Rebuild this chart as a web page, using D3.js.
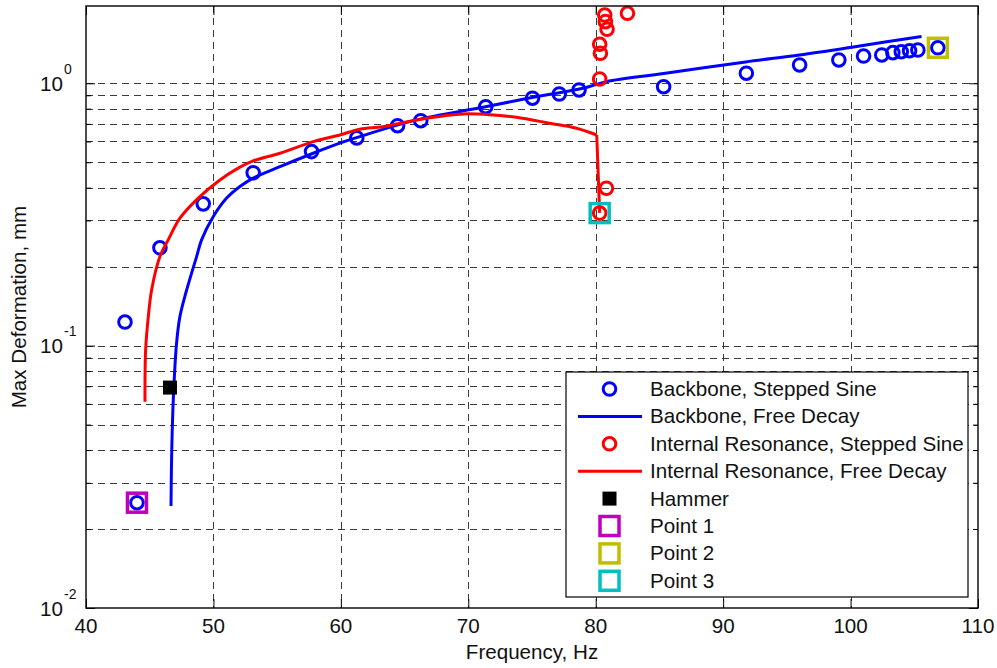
<!DOCTYPE html>
<html>
<head>
<meta charset="utf-8">
<script src="https://cdn.jsdelivr.net/npm/d3@7"></script>
<style>
  html, body { margin: 0; padding: 0; background: #fff; }
  svg { display: block; font-family: "Liberation Sans", Arial, Helvetica, sans-serif; }
</style>
</head>
<body>
<svg id="chart" width="997" height="668"></svg>
<script>
// Backbone curve measured with stepped sine (Hz, mm)
const bbSineFreq = [43.06, 44.0, 45.8, 49.2, 53.12, 57.7, 61.25, 64.45, 66.27, 71.37, 75.04, 77.14, 78.69,
                    85.33, 91.82, 96.0, 99.08, 101.02, 102.45, 103.32, 103.98, 104.63, 105.28, 106.85];
const bbSineDef  = [0.123, 0.0252, 0.236, 0.347, 0.456, 0.549, 0.619, 0.689, 0.720, 0.814, 0.877, 0.910, 0.943,
                    0.970, 1.092, 1.174, 1.227, 1.27, 1.282, 1.308, 1.319, 1.331, 1.339, 1.365];

// Backbone curve extracted from free decay
const bbDecayFreq = [46.67, 46.72, 46.85, 47.11, 47.37, 47.90, 48.68, 49.07, 49.98, 51.04, 52.08, 53.12, 55.22,
                     57.83, 59.92, 61.49, 65.94, 71.16, 75.08, 79.0, 80.84, 85.33, 91.76, 96.0, 100.71, 105.57];
const bbDecayDef  = [0.0245, 0.0378, 0.0622, 0.1025, 0.129, 0.163, 0.2185, 0.253, 0.310, 0.365, 0.404, 0.435, 0.481,
                     0.541, 0.591, 0.626, 0.725, 0.810, 0.884, 0.957, 1.014, 1.089, 1.206, 1.282, 1.387, 1.508];

// Internal resonance branch, stepped sine
const irSineFreq = [80.31, 80.37, 80.31, 80.89, 80.76, 80.71, 82.49, 80.84, 80.31];
const irSineDef  = [1.038, 1.301, 1.408, 1.606, 1.717, 1.82, 1.848, 0.398, 0.320];

// Internal resonance branch, free decay (smooth part, then the drop at ~80 Hz)
const irDecayFreq = [44.63, 44.68, 44.89, 45.15, 45.80, 46.45, 47.37, 48.81, 50.51, 52.08, 53.12, 55.22, 57.83,
                     59.92, 61.49, 63.32, 65.94, 68.02, 69.59, 71.69, 73.78, 76.39, 78.49, 80.08];
const irDecayDef  = [0.0611, 0.0964, 0.129, 0.163, 0.2185, 0.253, 0.306, 0.365, 0.428, 0.479, 0.506, 0.541, 0.599,
                     0.635, 0.668, 0.683, 0.725, 0.751, 0.764, 0.759, 0.742, 0.704, 0.674, 0.635];
const irDropFreq = [80.08, 80.31];
const irDropDef  = [0.635, 0.3206];

// Single markers: hammer test and the three highlighted points
const hammerPoint = [46.59, 0.0692];
const point1 = [44.0, 0.0252];
const point2 = [106.85, 1.365];
const point3 = [80.31, 0.320];

// Axis ticks and labels
const freqTicks = [40, 50, 60, 70, 80, 90, 100, 110];
const decadeTicks = [0.01, 0.1, 1];
const decadeExponents = ["-2", "-1", "0"];
const minorMultipliers = [2, 3, 4, 5, 6, 7, 8, 9];

const legendLabels = [
  "Backbone, Stepped Sine",
  "Backbone, Free Decay",
  "Internal Resonance, Stepped Sine",
  "Internal Resonance, Free Decay",
  "Hammer",
  "Point 1",
  "Point 2",
  "Point 3"
];

const BLUE = "#0000ff", RED = "#ff0000", PURPLE = "#bf00bf", OLIVE = "#bfbf00", CYAN = "#00bfbf";
const FS = 20.6;

const svg = d3.select("#chart");
const L = 86, R = 978, T = 6, B = 608;

const x = d3.scaleLinear().domain([40, 110]).range([L, R]);
const y = d3.scaleLog().domain([0.01, 1.97]).range([B, T]);

const minorTicks = [];
decadeTicks.slice(0, 2).forEach(d => minorMultipliers.forEach(m => minorTicks.push(+(m * d).toPrecision(3))));
const yGridVals = decadeTicks.concat(minorTicks).filter(v => v > 0.01);

// grid
const grid = svg.append("g").attr("stroke", "#3a3a3a").attr("stroke-width", 1)
  .attr("stroke-dasharray", "7,5").attr("shape-rendering", "crispEdges");
grid.selectAll("line.gx").data(freqTicks.slice(1, -1)).join("line")
  .attr("x1", d => Math.round(x(d)) + 0.5).attr("x2", d => Math.round(x(d)) + 0.5)
  .attr("y1", T).attr("y2", B);
grid.selectAll("line.gy").data(yGridVals).join("line")
  .attr("y1", d => Math.round(y(d)) + 0.5).attr("y2", d => Math.round(y(d)) + 0.5)
  .attr("x1", L).attr("x2", R);

// inward ticks on all four sides via d3 axes
const noLabel = () => "";
function styleAxis(g) {
  g.select(".domain").remove();
  g.selectAll("line").attr("stroke", "#000").attr("stroke-width", 1);
  g.selectAll("text").remove();
}
svg.append("g").attr("transform", `translate(0,${B})`)
  .call(d3.axisBottom(x).tickValues(freqTicks).tickSize(-9).tickFormat(noLabel)).call(styleAxis);
svg.append("g").attr("transform", `translate(0,${T})`)
  .call(d3.axisTop(x).tickValues(freqTicks).tickSize(-9).tickFormat(noLabel)).call(styleAxis);
svg.append("g").attr("transform", `translate(${L},0)`)
  .call(d3.axisLeft(y).tickValues(decadeTicks).tickSize(-9).tickFormat(noLabel)).call(styleAxis);
svg.append("g").attr("transform", `translate(${R},0)`)
  .call(d3.axisRight(y).tickValues(decadeTicks).tickSize(-9).tickFormat(noLabel)).call(styleAxis);
svg.append("g").attr("transform", `translate(${L},0)`)
  .call(d3.axisLeft(y).tickValues(minorTicks).tickSize(-5).tickFormat(noLabel)).call(styleAxis);
svg.append("g").attr("transform", `translate(${R},0)`)
  .call(d3.axisRight(y).tickValues(minorTicks).tickSize(-5).tickFormat(noLabel)).call(styleAxis);

// x tick labels
svg.append("g").selectAll("text").data(freqTicks).join("text")
  .attr("x", d => x(d)).attr("y", 633).attr("text-anchor", "middle")
  .attr("font-size", FS).attr("fill", "#111").text(d => d);

// y tick labels: 10 with superscript exponent
const yl = svg.append("g").attr("fill", "#111");
decadeTicks.forEach((d, i) => {
  const py = y(d);
  yl.append("text").attr("x", 63).attr("y", py + 7.5).attr("text-anchor", "end")
    .attr("font-size", FS).text("10");
  yl.append("text").attr("x", 64).attr("y", py - 9.5).attr("text-anchor", "start")
    .attr("font-size", 14).text(decadeExponents[i]);
});

// axis titles
svg.append("text").attr("x", (L + R) / 2).attr("y", 659).attr("text-anchor", "middle")
  .attr("font-size", FS).attr("fill", "#111").text("Frequency, Hz");
svg.append("text").attr("transform", `translate(26,${(T + B) / 2}) rotate(-90)`)
  .attr("text-anchor", "middle").attr("font-size", FS).attr("fill", "#111").text("Max Deformation, mm");

// data layer clipped to the axes box
svg.append("clipPath").attr("id", "plotClip").append("rect")
  .attr("x", L).attr("y", T - 10).attr("width", R - L).attr("height", B - T + 10);
const plot = svg.append("g").attr("clip-path", "url(#plotClip)");

const smooth = d3.line().x(d => x(d[0])).y(d => y(d[1])).curve(d3.curveCatmullRom.alpha(0.5));
const straight = d3.line().x(d => x(d[0])).y(d => y(d[1]));
const zip = (a, b) => a.map((v, i) => [v, b[i]]);

function circles(g, data, color) {
  g.append("g").selectAll("circle").data(data).join("circle")
    .attr("cx", d => x(d[0])).attr("cy", d => y(d[1])).attr("r", 6.3)
    .attr("fill", "none").attr("stroke", color).attr("stroke-width", 3);
}
function squareMark(g, d, color, size, filled) {
  g.append("rect")
    .attr("x", x(d[0]) - size / 2).attr("y", y(d[1]) - size / 2)
    .attr("width", size).attr("height", size)
    .attr("fill", filled ? color : "none")
    .attr("stroke", filled ? "none" : color).attr("stroke-width", filled ? 0 : 3.5);
}
function path(g, data, gen, color) {
  g.append("path").datum(data).attr("d", gen)
    .attr("fill", "none").attr("stroke", color).attr("stroke-width", 3)
    .attr("stroke-linejoin", "round").attr("stroke-linecap", "butt");
}

circles(plot, zip(bbSineFreq, bbSineDef), BLUE);
path(plot, zip(bbDecayFreq, bbDecayDef), smooth, BLUE);
circles(plot, zip(irSineFreq, irSineDef), RED);
path(plot, zip(irDecayFreq, irDecayDef), smooth, RED);
path(plot, zip(irDropFreq, irDropDef), straight, RED);
squareMark(plot, hammerPoint, "#000", 14, true);
squareMark(plot, point1, PURPLE, 19, false);
squareMark(plot, point2, OLIVE, 19, false);
squareMark(plot, point3, CYAN, 19, false);

// axes box
svg.append("rect").attr("x", L).attr("y", T).attr("width", R - L).attr("height", B - T)
  .attr("fill", "none").attr("stroke", "#000").attr("stroke-width", 1.4);

// legend
const lg = svg.append("g");
const lgX = 566, lgY = 372, lgW = 402, lgH = 225, rowH = 27.4, row0 = 389;
lg.append("rect").attr("x", lgX).attr("y", lgY).attr("width", lgW).attr("height", lgH)
  .attr("fill", "#fff").attr("stroke", "#000").attr("stroke-width", 1.2);
const symX = 609.5;
legendLabels.forEach((label, i) => {
  const cy = row0 + i * rowH;
  if (i === 0 || i === 2) {
    lg.append("circle").attr("cx", symX).attr("cy", cy).attr("r", 6.3)
      .attr("fill", "none").attr("stroke", i === 0 ? BLUE : RED).attr("stroke-width", 3);
  } else if (i === 1 || i === 3) {
    lg.append("line").attr("x1", 578).attr("x2", 642).attr("y1", cy).attr("y2", cy)
      .attr("stroke", i === 1 ? BLUE : RED).attr("stroke-width", 3);
  } else if (i === 4) {
    lg.append("rect").attr("x", symX - 7).attr("y", cy - 7).attr("width", 14).attr("height", 14).attr("fill", "#000");
  } else {
    const c = [PURPLE, OLIVE, CYAN][i - 5];
    lg.append("rect").attr("x", symX - 9.5).attr("y", cy - 9.5).attr("width", 19).attr("height", 19)
      .attr("fill", "none").attr("stroke", c).attr("stroke-width", 3.5);
  }
  lg.append("text").attr("x", 650).attr("y", cy + 7).attr("font-size", FS).attr("fill", "#111").text(label);
});
</script>
</body>
</html>
